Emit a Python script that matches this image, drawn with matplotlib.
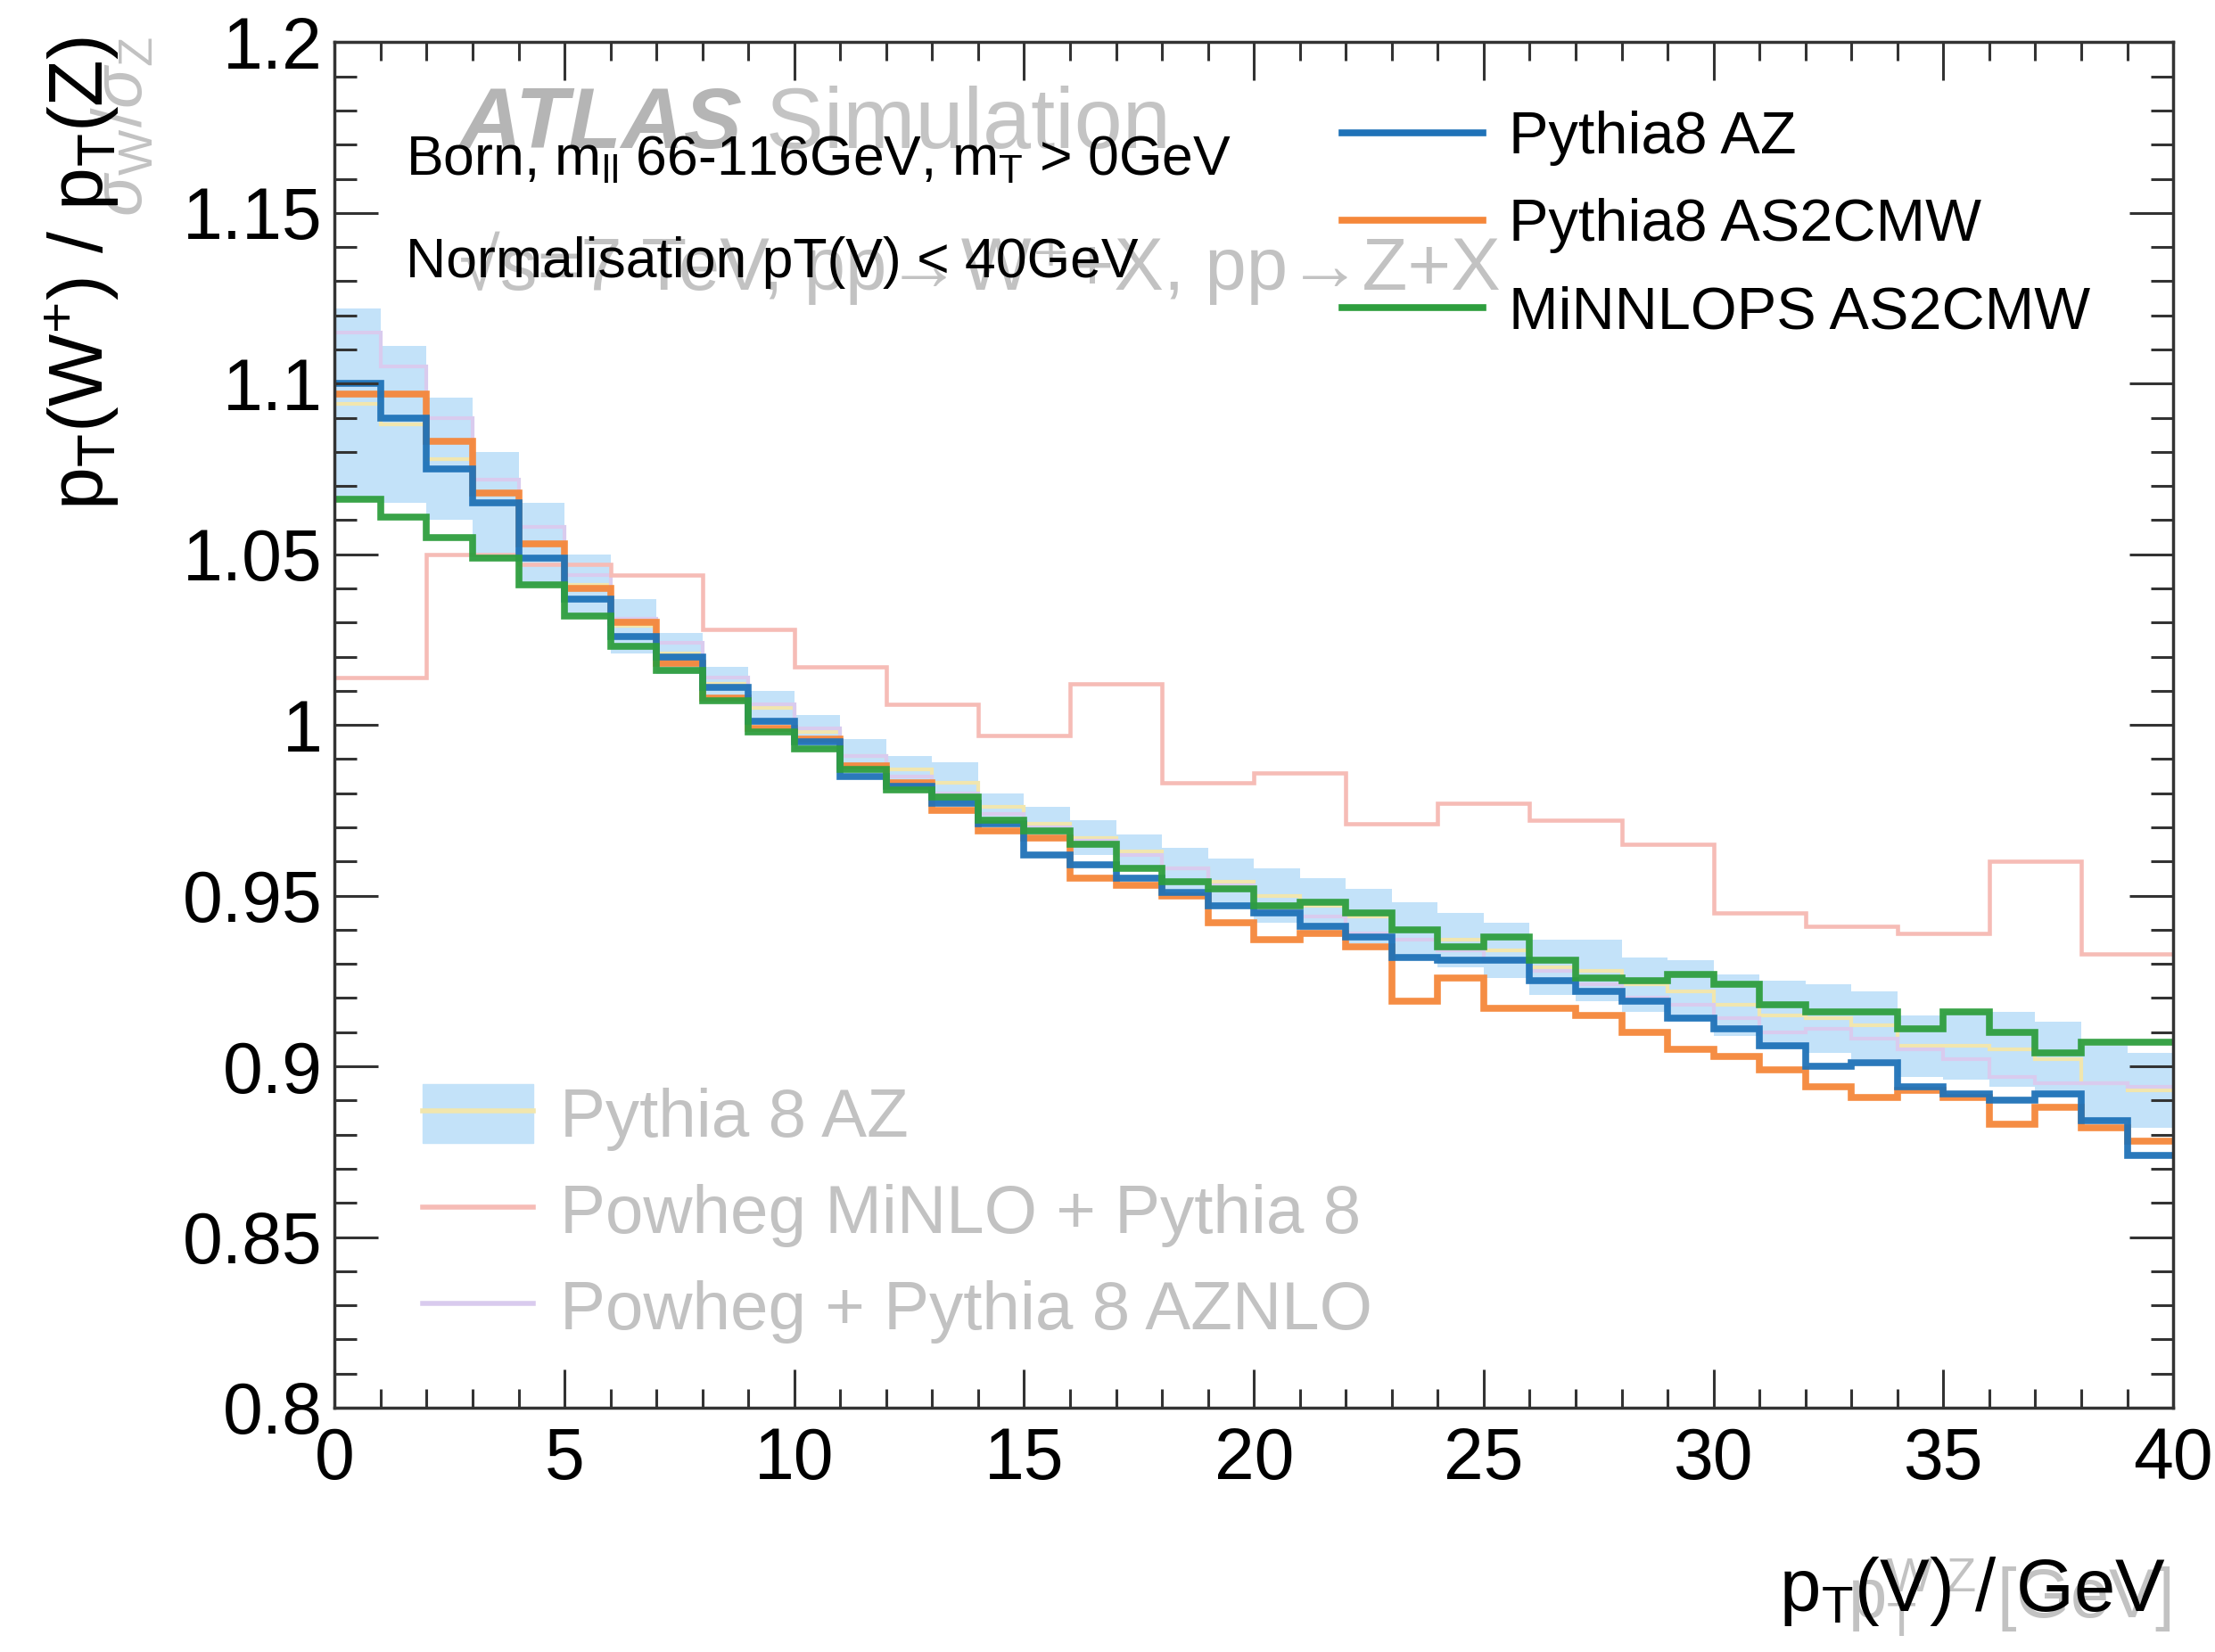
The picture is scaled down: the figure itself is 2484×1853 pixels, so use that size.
import numpy as np
import matplotlib
matplotlib.use('Agg')
from matplotlib import pyplot as plt
from matplotlib.lines import Line2D
from matplotlib.patches import Patch
from matplotlib.ticker import FormatStrFormatter

plt.rcParams['font.family'] = ['Liberation Sans', 'DejaVu Sans']
plt.rcParams['mathtext.fontset'] = 'custom'
plt.rcParams['mathtext.rm'] = 'Liberation Sans'
plt.rcParams['mathtext.it'] = 'Liberation Sans:italic'
plt.rcParams['mathtext.bf'] = 'Liberation Sans:bold'

# bin edges (GeV)
pt_edges = np.arange(0, 41, 1)
pt_edges_minlo = np.arange(0, 41, 2)

# dark overlay: ratios pT(W+)/pT(Z)
pythia8_az = [1.100, 1.090, 1.075, 1.065, 1.049, 1.037, 1.026, 1.020, 1.011, 1.001,
              0.995, 0.985, 0.982, 0.977, 0.971, 0.962, 0.959, 0.955, 0.951, 0.947,
              0.945, 0.941, 0.938, 0.932, 0.931, 0.931, 0.925, 0.922, 0.919, 0.914,
              0.911, 0.906, 0.900, 0.901, 0.894, 0.892, 0.890, 0.892, 0.884, 0.874]
pythia8_as2cmw = [1.097, 1.097, 1.083, 1.068, 1.053, 1.040, 1.030, 1.018, 1.008, 0.999,
                  0.996, 0.988, 0.983, 0.975, 0.969, 0.967, 0.955, 0.953, 0.950, 0.942,
                  0.937, 0.939, 0.935, 0.919, 0.926, 0.917, 0.917, 0.915, 0.910, 0.905,
                  0.903, 0.899, 0.894, 0.891, 0.893, 0.891, 0.883, 0.888, 0.882, 0.878]
minnlops_as2cmw = [1.066, 1.061, 1.055, 1.049, 1.041, 1.032, 1.023, 1.016, 1.007, 0.998,
                   0.993, 0.987, 0.981, 0.979, 0.972, 0.969, 0.965, 0.958, 0.954, 0.952,
                   0.947, 0.948, 0.945, 0.940, 0.935, 0.938, 0.931, 0.926, 0.925, 0.927,
                   0.924, 0.918, 0.916, 0.916, 0.911, 0.916, 0.910, 0.904, 0.907, 0.907]

# faded ATLAS simulation underneath
az_central = [1.094, 1.088, 1.078, 1.065, 1.053, 1.041, 1.029, 1.021, 1.012, 1.005,
              0.998, 0.991, 0.987, 0.983, 0.976, 0.971, 0.967, 0.963, 0.958, 0.954,
              0.950, 0.947, 0.944, 0.940, 0.937, 0.934, 0.929, 0.928, 0.924, 0.922,
              0.918, 0.915, 0.914, 0.912, 0.906, 0.906, 0.905, 0.902, 0.895, 0.893]
az_err = [0.028, 0.023, 0.018, 0.015, 0.012, 0.009, 0.008, 0.006, 0.005, 0.005,
          0.005, 0.005, 0.004, 0.006, 0.004, 0.005, 0.005, 0.005, 0.006, 0.007,
          0.008, 0.008, 0.008, 0.008, 0.008, 0.008, 0.008, 0.009, 0.008, 0.009,
          0.009, 0.010, 0.010, 0.010, 0.009, 0.010, 0.011, 0.011, 0.011, 0.011]
powheg_aznlo = [1.115, 1.105, 1.090, 1.072, 1.058, 1.044, 1.031, 1.024, 1.014, 1.006,
                0.999, 0.991, 0.985, 0.980, 0.974, 0.970, 0.966, 0.962, 0.958, 0.953,
                0.946, 0.944, 0.939, 0.937, 0.934, 0.931, 0.928, 0.924, 0.920, 0.918,
                0.914, 0.910, 0.911, 0.908, 0.905, 0.902, 0.897, 0.895, 0.895, 0.894]
powheg_minlo = [1.014, 1.050, 1.047, 1.044, 1.028, 1.017, 1.006, 0.997, 1.012, 0.983,
                0.986, 0.971, 0.977, 0.972, 0.965, 0.945, 0.941, 0.939, 0.960, 0.933]

c_band = '#c3e2f9'
c_yellow = '#f1e6ae'
c_lav = '#d9cbee'
c_pink = '#f6bcb6'
c_faded_txt = '#c2c2c2'
dark_cols = ['#1f72b8', '#f5873a', '#2e9e3e']

fig = plt.figure(figsize=(24.84, 18.53), dpi=100)
ax = fig.add_axes([0.1511, 0.1479, 0.8300, 0.8265])

az_c = np.array(az_central)
az_e = np.array(az_err)
ax.stairs(az_c + az_e, pt_edges, baseline=az_c - az_e, fill=True, color=c_band, lw=0)
ax.stairs(az_central, pt_edges, baseline=None, color=c_yellow, lw=3)
ax.stairs(powheg_aznlo, pt_edges, baseline=None, color=c_lav, lw=3)
ax.stairs(powheg_minlo, pt_edges_minlo, baseline=None, color=c_pink, lw=3.3)

for vals, c in zip([pythia8_as2cmw, pythia8_az, minnlops_as2cmw],
                   [dark_cols[1], dark_cols[0], dark_cols[2]]):
    ax.stairs(vals, pt_edges, baseline=None, color=c, lw=5.5, alpha=0.95)

ax.set_xlim(0, 40)
ax.set_ylim(0.8, 1.2)
ax.set_xticks(np.arange(0, 41, 5))
ax.set_xticks(np.arange(0, 41, 1), minor=True)
ax.set_yticks(np.arange(0.8, 1.2001, 0.05))
ax.set_yticks(np.arange(0.8, 1.2001, 0.01), minor=True)
ax.yaxis.set_major_formatter(FormatStrFormatter('%g'))
ax.tick_params(axis='both', which='both', direction='in', top=True, right=True,
               labelsize=58, color='#333333', width=2.2)
ax.tick_params(axis='y', which='major', length=35, pad=10)
ax.tick_params(axis='y', which='minor', length=18)
ax.tick_params(axis='x', which='major', length=31, pad=15)
ax.tick_params(axis='x', which='minor', length=15)
for s in ax.spines.values():
    s.set_linewidth(2.5)
    s.set_color('#333333')

# faded ATLAS labels
t1 = ax.text(0.0676, 0.9226, 'ATLAS', transform=ax.transAxes, fontsize=70,
             fontweight='bold', fontstyle='italic', color='#b5b5b5', va='baseline')
ax.annotate(' Simulation', xy=(1, 0), xycoords=t1, fontsize=70, color='#c4c4c4',
            va='bottom', ha='left')
ax.text(0.0676, 0.819, '\u221as=7 TeV, pp\u2192W\u207a+X, pp\u2192Z+X', transform=ax.transAxes,
        fontsize=60, color=c_faded_txt, va='baseline')

leg_faded = ax.legend([(Patch(color=c_band), Line2D([], [], color=c_yellow, lw=4)),
                       Line2D([], [], color=c_pink, lw=4),
                       Line2D([], [], color=c_lav, lw=4)],
                      ['Pythia 8 AZ', 'Powheg MiNLO + Pythia 8', 'Powheg + Pythia 8 AZNLO'],
                      loc='upper left', bbox_to_anchor=(0.048, 0.237), frameon=False,
                      fontsize=55, labelcolor=c_faded_txt, handlelength=1.62,
                      handleheight=0.95, handletextpad=0.39, labelspacing=0.43,
                      borderpad=0, borderaxespad=0)
ax.add_artist(leg_faded)

# dark overlay texts
ax.text(0.0386, 0.914, r'Born, m$_{\mathrm{ll}}$ 66-116GeV, m$_{\mathrm{T}}$ > 0GeV',
        transform=ax.transAxes, fontsize=45, va='center')
ax.text(0.0386, 0.839, 'Normalisation pT(V) < 40GeV', transform=ax.transAxes,
        fontsize=45, va='center')

dark_handles = [Line2D([], [], color=c, lw=5.5) for c in dark_cols]
ax.legend(dark_handles, ['Pythia8 AZ', 'Pythia8 AS2CMW', 'MiNNLOPS AS2CMW'],
          loc='upper left', bbox_to_anchor=(0.548, 0.950), frameon=False,
          fontsize=48, handlelength=2.37, handletextpad=0.43, labelspacing=0.54,
          borderpad=0, borderaxespad=0)

# axis titles (faded + dark)
fig.text(0.056, 0.978, r'$\sigma_{\mathrm{W}}/\sigma_{\mathrm{Z}}$', rotation=90,
         ha='center', va='top', fontsize=56, color=c_faded_txt)
fig.text(0.037, 0.978, r'p$_{\mathrm{T}}$(W$^{+}$) / p$_{\mathrm{T}}$(Z)', rotation=90,
         ha='center', va='top', fontsize=62)
fig.text(0.980, 0.021, r'p$_{\mathrm{T}}^{\mathrm{W\ Z}}$ [GeV]', ha='right',
         va='baseline', fontsize=56, color=c_faded_txt)
fig.text(0.978, 0.025, r'p$_{\mathrm{T}}$(V) / GeV', ha='right', va='baseline',
         fontsize=60)

fig.savefig('out.png', dpi=100)
